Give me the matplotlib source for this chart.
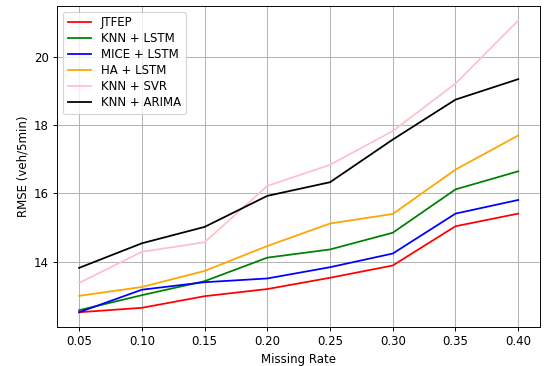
import matplotlib
matplotlib.use("Agg")
import matplotlib.pyplot as plt

missing_rate = [0.05, 0.10, 0.15, 0.20, 0.25, 0.30, 0.35, 0.40]

jtfep = [12.52, 12.65, 12.99, 13.20, 13.53, 13.89, 15.04, 15.41]
knn_lstm = [12.58, 13.02, 13.43, 14.12, 14.36, 14.85, 16.12, 16.65]
mice_lstm = [12.52, 13.18, 13.40, 13.51, 13.84, 14.24, 15.41, 15.81]
ha_lstm = [13.00, 13.26, 13.73, 14.46, 15.12, 15.40, 16.70, 17.70]
knn_svr = [13.38, 14.29, 14.57, 16.22, 16.84, 17.83, 19.22, 21.07]
knn_arima = [13.82, 14.54, 15.02, 15.93, 16.33, 17.58, 18.75, 19.35]

series = [
    ("JTFEP", jtfep, "red"),
    ("KNN + LSTM", knn_lstm, "green"),
    ("MICE + LSTM", mice_lstm, "blue"),
    ("HA + LSTM", ha_lstm, "orange"),
    ("KNN + SVR", knn_svr, "pink"),
    ("KNN + ARIMA", knn_arima, "black"),
]

DPI = 85
fig, ax = plt.subplots(figsize=(544 / DPI, 366 / DPI), dpi=DPI)
for label, vals, color in series:
    ax.plot(missing_rate, vals, color=color, label=label)

ax.set_xlabel("Missing Rate")
ax.set_ylabel("RMSE (veh/5min)")
ax.set_xticks(missing_rate)
ax.set_yticks([14, 16, 18, 20])
ax.grid(True)
ax.legend(loc="upper left", labelspacing=0.25)
fig.subplots_adjust(left=0.105, right=0.993, top=0.984, bottom=0.107)
fig.savefig("out.png", dpi=DPI)
